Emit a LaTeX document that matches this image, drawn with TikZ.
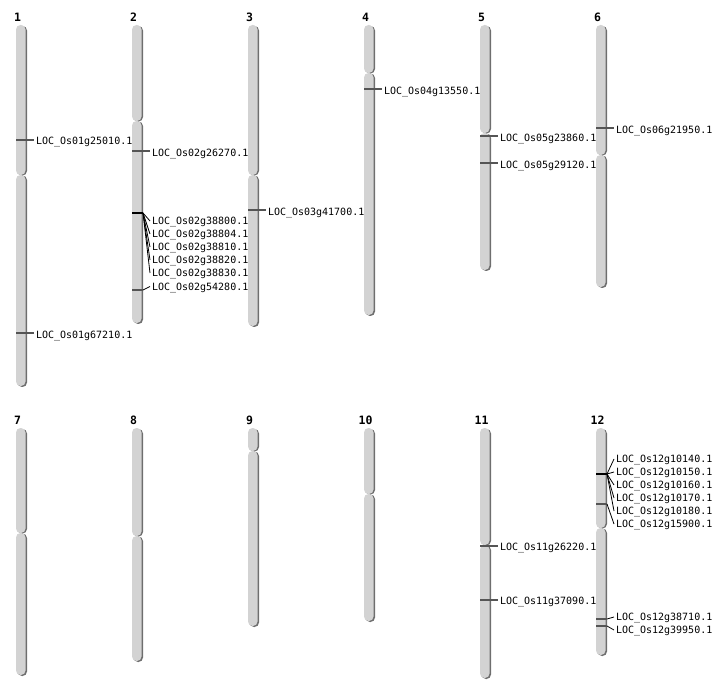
\documentclass[tikz,border=0pt]{standalone}
\usepackage{fontspec}
\setmonofont{DejaVu Sans Mono}
\definecolor{chrgray}{HTML}{D3D3D3}
\definecolor{chrdark}{HTML}{6E6E6E}
\definecolor{tickgray}{HTML}{555555}
\begin{document}
\begin{tikzpicture}[x=1pt,y=-1pt,
 arm/.style={fill=chrgray,rounded corners=4.5pt},
 armshadow/.style={fill=chrdark,rounded corners=4.5pt},
 tick/.style={draw=tickgray,line width=1.3pt},
 bunch/.style={draw=black,line width=2pt},
 fan/.style={draw=black,line width=0.8pt},
 gene/.style={font=\ttfamily\fontsize{10}{12}\selectfont,anchor=west,inner sep=0pt,outer sep=2pt,text height=7.3pt,text depth=0pt},
 chrlab/.style={font=\ttfamily\bfseries\fontsize{11.5}{13}\selectfont,inner sep=0pt,text height=8.4pt,text depth=0pt}]
 \useasboundingbox (0,0) rectangle (712,700);
 % chromosomes: number/left/top/centromere/bottom
 \foreach \n/\xl/\ytop/\ycen/\ybot in {1/16/25/175/386, 2/132/25/121/323, 3/248/25/175/326, 4/364/25/73/315, 5/480/25/133/270, 6/596/25/155/287, 7/16/428/533/675, 8/132/428/536/661, 9/248/428/451/626, 10/364/428/494/621, 11/480/428/545/678, 12/596/428/528/655}{
  \fill[armshadow] (\xl+1.5,\ytop+1) rectangle (\xl+11,\ycen+0.5);
  \fill[armshadow] (\xl+1.5,\ycen+0.5) rectangle (\xl+11,\ybot+1);
  \fill[arm] (\xl,\ytop) rectangle (\xl+9.5,\ycen);
  \fill[arm] (\xl,\ycen) rectangle (\xl+9.5,\ybot);
  \node[chrlab] (c\n) at (\xl+1.5,\ytop-7.5) {\n};
 }
 % chr 1
 \coordinate (m1a) at (16,140);
 \coordinate (m1b) at (16,333);
 \node[gene] (g1a) at (34,140.5) {LOC\_Os01g25010.1};
 \node[gene] (g1b) at (34,334.5) {LOC\_Os01g67210.1};
 \draw[tick] (m1a) -- (m1a -| g1a.west);
 \draw[tick] (m1b) -- (m1b -| g1b.west);
 % chr 2
 \coordinate (m2a) at (132,151);
 \coordinate (m2b) at (132,213);
 \coordinate (f2b) at (143,213);
 \coordinate (m2g) at (132,290);
 \coordinate (f2g) at (143,290);
 \node[gene] (g2a) at (150,152.5) {LOC\_Os02g26270.1};
 \node[gene] (g2b) at (150,221) {LOC\_Os02g38800.1};
 \node[gene] (g2c) at (150,234) {LOC\_Os02g38804.1};
 \node[gene] (g2d) at (150,247) {LOC\_Os02g38810.1};
 \node[gene] (g2e) at (150,260) {LOC\_Os02g38820.1};
 \node[gene] (g2f) at (150,273) {LOC\_Os02g38830.1};
 \node[gene] (g2g) at (150,286.5) {LOC\_Os02g54280.1};
 \draw[tick] (m2a) -- (m2a -| g2a.west);
 \draw[bunch] (m2b) -- (f2b);
 \draw[fan] (f2b) -- (g2b.west);
 \draw[fan] (f2b) -- (g2c.west);
 \draw[fan] (f2b) -- (g2d.west);
 \draw[fan] (f2b) -- (g2e.west);
 \draw[fan] (f2b) -- (g2f.west);
 \draw[tick] (m2g) -- (f2g);
 \draw[fan] (f2g) -- (g2g.west);
 % chr 3
 \coordinate (m3a) at (248,210);
 \node[gene] (g3a) at (266,212) {LOC\_Os03g41700.1};
 \draw[tick] (m3a) -- (m3a -| g3a.west);
 % chr 4
 \coordinate (m4a) at (364,89);
 \node[gene] (g4a) at (382,90.5) {LOC\_Os04g13550.1};
 \draw[tick] (m4a) -- (m4a -| g4a.west);
 % chr 5
 \coordinate (m5a) at (480,136);
 \coordinate (m5b) at (480,163);
 \node[gene] (g5a) at (498,138) {LOC\_Os05g23860.1};
 \node[gene] (g5b) at (498,164.5) {LOC\_Os05g29120.1};
 \draw[tick] (m5a) -- (m5a -| g5a.west);
 \draw[tick] (m5b) -- (m5b -| g5b.west);
 % chr 6
 \coordinate (m6a) at (596,128);
 \node[gene] (g6a) at (614,130) {LOC\_Os06g21950.1};
 \draw[tick] (m6a) -- (m6a -| g6a.west);
 % chr 11
 \coordinate (m11a) at (480,546);
 \coordinate (m11b) at (480,600);
 \node[gene] (g11a) at (498,547) {LOC\_Os11g26220.1};
 \node[gene] (g11b) at (498,601) {LOC\_Os11g37090.1};
 \draw[tick] (m11a) -- (m11a -| g11a.west);
 \draw[tick] (m11b) -- (m11b -| g11b.west);
 % chr 12
 \coordinate (m12a) at (596,474);
 \coordinate (f12a) at (607,474);
 \coordinate (m12b) at (596,504);
 \coordinate (f12b) at (607,504);
 \coordinate (m12c) at (596,619);
 \coordinate (f12c) at (607,619);
 \coordinate (m12d) at (596,626);
 \coordinate (f12d) at (607,626);
 \node[gene] (g12a) at (614,459) {LOC\_Os12g10140.1};
 \node[gene] (g12b) at (614,472) {LOC\_Os12g10150.1};
 \node[gene] (g12c) at (614,485) {LOC\_Os12g10160.1};
 \node[gene] (g12d) at (614,498) {LOC\_Os12g10170.1};
 \node[gene] (g12e) at (614,511) {LOC\_Os12g10180.1};
 \node[gene] (g12f) at (614,524) {LOC\_Os12g15900.1};
 \node[gene] (g12g) at (614,617) {LOC\_Os12g38710.1};
 \node[gene] (g12h) at (614,630) {LOC\_Os12g39950.1};
 \draw[bunch] (m12a) -- (f12a);
 \draw[fan] (f12a) -- (g12a.west);
 \draw[fan] (f12a) -- (g12b.west);
 \draw[fan] (f12a) -- (g12c.west);
 \draw[fan] (f12a) -- (g12d.west);
 \draw[fan] (f12a) -- (g12e.west);
 \draw[tick] (m12b) -- (f12b);
 \draw[fan] (f12b) -- (g12f.west);
 \draw[tick] (m12c) -- (f12c);
 \draw[fan] (f12c) -- (g12g.west);
 \draw[tick] (m12d) -- (f12d);
 \draw[fan] (f12d) -- (g12h.west);
\end{tikzpicture}
\end{document}
